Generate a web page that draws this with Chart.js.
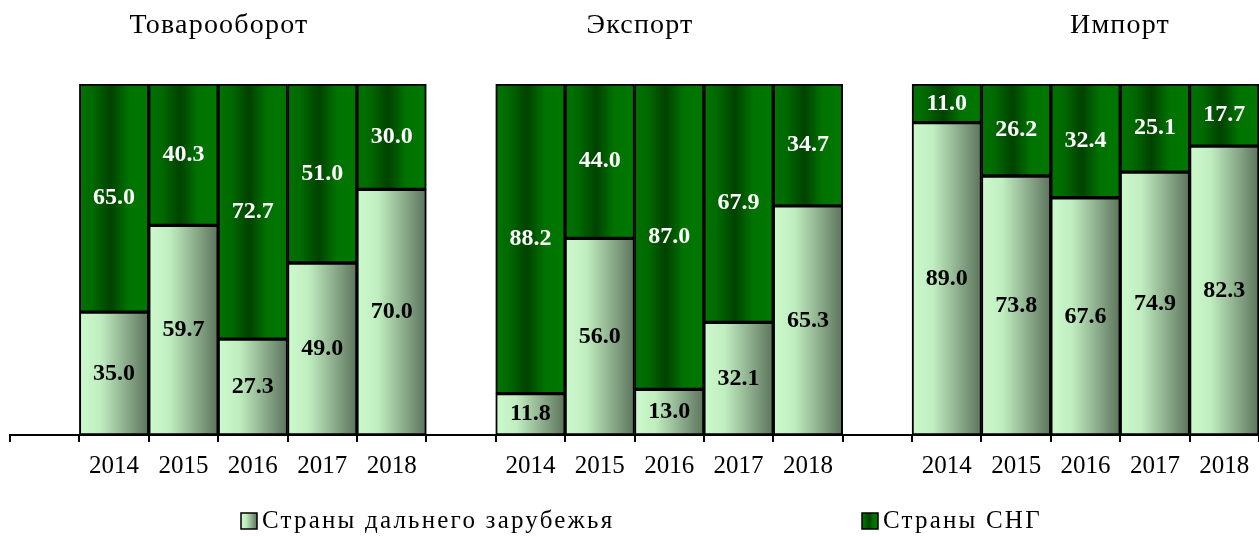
<!DOCTYPE html>
<html>
<head>
<meta charset="utf-8">
<script src="https://cdn.jsdelivr.net/npm/chart.js@4/dist/chart.umd.min.js"></script>
<style>
  html, body { margin: 0; padding: 0; background: #fff; }
  #wrap { width: 1259px; height: 537px; position: relative; }
</style>
</head>
<body>
<div id="wrap"><canvas id="chart"></canvas></div>
<script>
// data
const years = ["2014", "2015", "2016", "2017", "2018"];
const groupTitles = ["Товарооборот", "Экспорт", "Импорт"];
const seriesNames = ["Страны дальнего зарубежья", "Страны СНГ"];

const turnoverFar = [35.0, 59.7, 27.3, 49.0, 70.0];
const turnoverCis = [65.0, 40.3, 72.7, 51.0, 30.0];
const exportFar = [11.8, 56.0, 13.0, 32.1, 65.3];
const exportCis = [88.2, 44.0, 87.0, 67.9, 34.7];
const importFar = [89.0, 73.8, 67.6, 74.9, 82.3];
const importCis = [11.0, 26.2, 32.4, 25.1, 17.7];

// one empty slot before each group of five years
function withGaps(a, b, c) {
  return [null, ...a, null, ...b, null, ...c];
}
const labels = withGaps(years, years, years).map((v) => v || "");
const farData = withGaps(turnoverFar, exportFar, importFar);
const cisData = withGaps(turnoverCis, exportCis, importCis);

const SERIF = "'Liberation Serif', 'Times New Roman', serif";

function barGradient(ctx, x0, x1, kind) {
  const g = ctx.createLinearGradient(x0, 0, x1, 0);
  if (kind === "far") {
    g.addColorStop(0, "#ccfacc");
    g.addColorStop(0.3, "#c0eec0");
    g.addColorStop(0.65, "#8fb08f");
    g.addColorStop(1, "#5c745c");
  } else {
    g.addColorStop(0, "#007400");
    g.addColorStop(0.2, "#006800");
    g.addColorStop(0.45, "#004200");
    g.addColorStop(0.7, "#007200");
    g.addColorStop(1, "#007800");
  }
  return g;
}

function scriptedFill(kind) {
  return (context) => {
    const chart = context.chart;
    const x = chart.scales && chart.scales.x;
    if (!chart.chartArea || !x || context.dataIndex === undefined) return kind === "far" ? "#a8d8a8" : "#006000";
    const w = chart.chartArea.width / labels.length;
    const cx = x.getPixelForValue(context.dataIndex);
    return barGradient(chart.ctx, cx - w / 2, cx + w / 2, kind);
  };
}

// value labels in bar centres
const valueLabels = {
  id: "valueLabels",
  afterDatasetsDraw(chart) {
    const ctx = chart.ctx;
    ctx.save();
    ctx.font = "bold 24px " + SERIF;
    ctx.textAlign = "center";
    ctx.textBaseline = "middle";
    chart.data.datasets.forEach((ds, i) => {
      const meta = chart.getDatasetMeta(i);
      ctx.fillStyle = i === 0 ? "#000" : "#fff";
      meta.data.forEach((bar, j) => {
        const v = ds.data[j];
        if (v === null) return;
        const p = bar.getProps(["x", "y", "base"], true);
        ctx.fillText(v.toFixed(1), p.x, (p.y + p.base) / 2);
      });
    });
    ctx.restore();
  },
};

// group titles and legend
const decorations = {
  id: "decorations",
  afterDraw(chart) {
    const ctx = chart.ctx;
    ctx.save();
    ctx.fillStyle = "#000";
    ctx.textBaseline = "middle";
    ctx.textAlign = "center";
    ctx.font = "28px " + SERIF;
    ctx.letterSpacing = "1.2px";
    const titleX = [219, 640, 1120];
    groupTitles.forEach((t, i) => ctx.fillText(t, titleX[i], 26));

    ctx.textAlign = "left";
    ctx.font = "25px " + SERIF;
    ctx.letterSpacing = "2.2px";
    const legendX = [241, 862];
    ["far", "cis"].forEach((kind, i) => {
      const bx = legendX[i], by = 513, s = 16;
      ctx.fillStyle = barGradient(ctx, bx, bx + s, kind);
      ctx.fillRect(bx, by, s, s);
      ctx.strokeStyle = "#000";
      ctx.lineWidth = 1.5;
      ctx.strokeRect(bx, by, s, s);
      ctx.fillStyle = "#000";
      ctx.fillText(seriesNames[i], bx + s + 5, 521);
    });
    ctx.restore();
  },
};

new Chart(document.getElementById("chart"), {
  type: "bar",
  data: {
    labels: labels,
    datasets: [
      {
        label: seriesNames[0],
        data: farData,
        backgroundColor: scriptedFill("far"),
        borderColor: "#000",
        borderWidth: 2,
        borderSkipped: false,
      },
      {
        label: seriesNames[1],
        data: cisData,
        backgroundColor: scriptedFill("cis"),
        borderColor: "#000",
        borderWidth: 2,
        borderSkipped: false,
      },
    ],
  },
  options: {
    responsive: true,
    maintainAspectRatio: false,
    animation: false,
    layout: { padding: { left: 10, right: 0, top: 84, bottom: 0 } },
    datasets: { bar: { barPercentage: 1, categoryPercentage: 1 } },
    plugins: {
      legend: { display: false },
      tooltip: { enabled: false },
    },
    scales: {
      x: {
        stacked: true,
        afterFit(scale) { scale.height = 102; },
        border: { display: true, color: "#000", width: 2 },
        grid: { offset: true, drawOnChartArea: false, drawTicks: true, tickLength: 7, color: "#000", lineWidth: 2 },
        ticks: { color: "#000", padding: 9, maxRotation: 0, autoSkip: false, font: { family: SERIF, size: 25 } },
      },
      y: {
        stacked: true,
        display: false,
        min: 0,
        max: 100,
      },
    },
  },
  plugins: [valueLabels, decorations],
});
</script>
</body>
</html>
